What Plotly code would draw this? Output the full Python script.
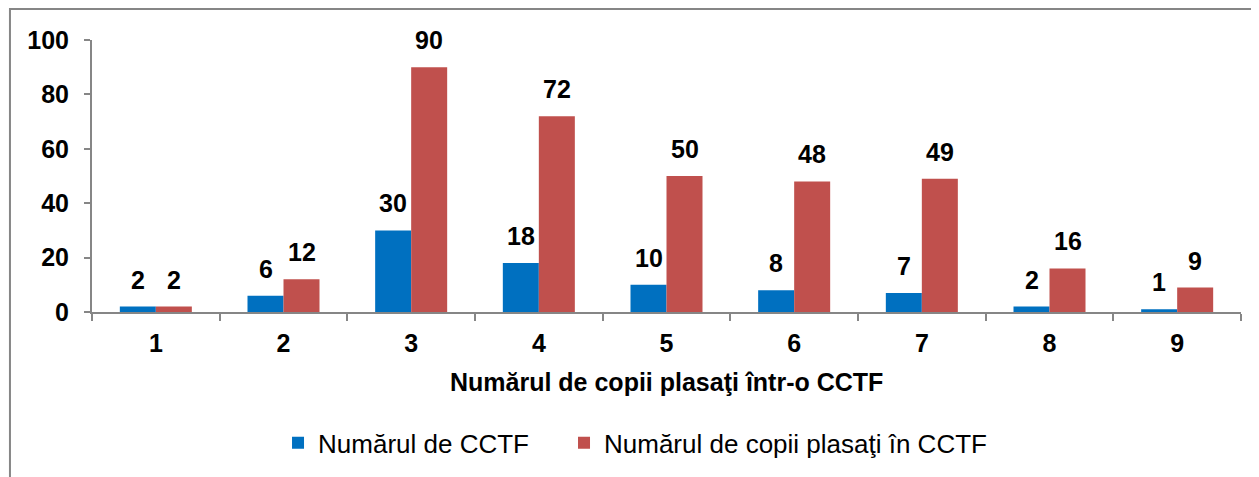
import plotly.graph_objects as go

categories = ["1", "2", "3", "4", "5", "6", "7", "8", "9"]
cctf = [2, 6, 30, 18, 10, 8, 7, 2, 1]
copii = [2, 12, 90, 72, 50, 48, 49, 16, 9]
series_names = ["Numărul de CCTF", "Numărul de copii plasaţi în CCTF"]
x_title = "Numărul de copii plasaţi într-o CCTF"
y_ticks = [0, 20, 40, 60, 80, 100]

BLUE = "#0070C0"
RED = "#C0504D"
GREY = "#868686"
FONT = "Liberation Sans, Arial, sans-serif"

fig = go.Figure()
fig.add_trace(go.Bar(x=categories, y=cctf, name=series_names[0], marker_color=BLUE,
                     marker_line_width=0, legend="legend"))
fig.add_trace(go.Bar(x=categories, y=copii, name=series_names[1], marker_color=RED,
                     marker_line_width=0, legend="legend2"))

for vals, shift in ((cctf, -18), (copii, 18)):
    for i, v in enumerate(vals):
        fig.add_annotation(x=i, y=v, text=str(v), showarrow=False,
                           xshift=shift, yshift=11, yanchor="bottom",
                           font=dict(family=FONT, size=25, color="black", weight="bold"))

fig.add_annotation(xref="paper", yref="paper", x=0.5, y=-0.256, text=x_title,
                   showarrow=False, yanchor="middle",
                   font=dict(family=FONT, size=25, color="black", weight="bold"))

# outer chart border (extends beyond the visible area)
fig.add_shape(type="rect", xref="paper", yref="paper", x0=-0.0714, y0=-1.0,
              x1=1.2, y1=1.1136, line=dict(color=GREY, width=2), layer="below")

legend_common = dict(orientation="h", xanchor="left", y=-0.476, yanchor="middle",
                     font=dict(family=FONT, size=26, color="black"), itemwidth=30,
                     bgcolor="rgba(0,0,0,0)")

fig.update_layout(
    width=1251, height=469,
    margin=dict(l=84, r=18, t=32, b=164),
    paper_bgcolor="white", plot_bgcolor="white",
    barmode="group", bargap=0.436, bargroupgap=0,
    font=dict(family=FONT, size=25, color="black"),
    showlegend=True,
    legend=dict(x=0.1619, **legend_common),
    legend2=dict(x=0.4108, **legend_common),
    xaxis=dict(type="category", showline=True, linecolor=GREY, linewidth=2,
               ticks="outside", tickson="boundaries", ticklen=7, tickcolor=GREY,
               tickwidth=2, tickfont=dict(family=FONT, size=25, color="black", weight="bold"),
               ticklabelstandoff=8, showgrid=False, zeroline=False),
    yaxis=dict(range=[0, 100], tickvals=y_ticks, showline=True, linecolor=GREY,
               linewidth=2, ticks="outside", ticklen=6, tickcolor=GREY, tickwidth=2,
               tickfont=dict(family=FONT, size=25, color="black", weight="bold"),
               ticklabelstandoff=10, showgrid=False, zeroline=False),
)

fig.write_html("out.html")
